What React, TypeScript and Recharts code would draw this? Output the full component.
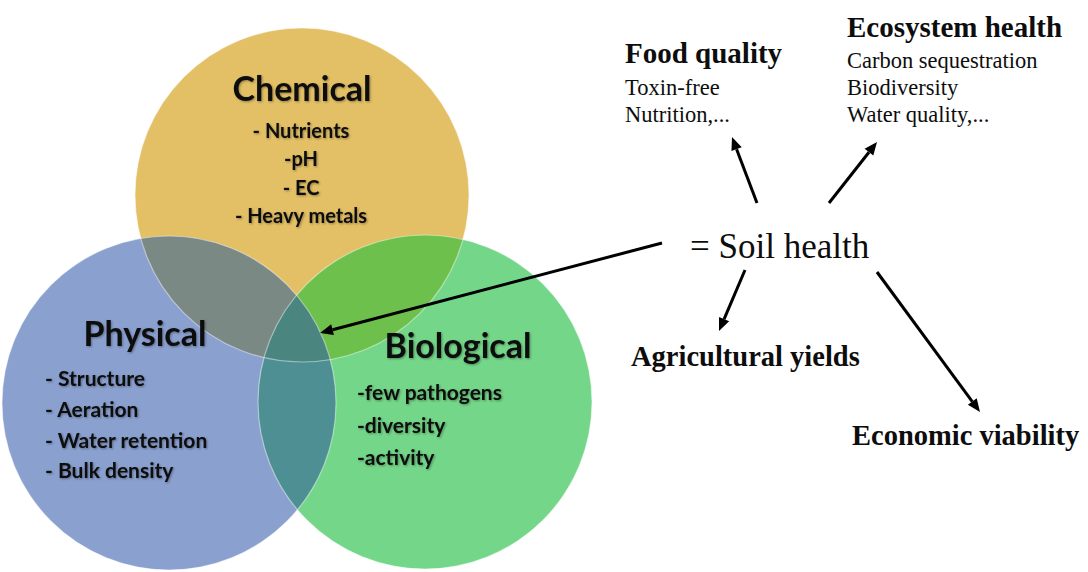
import React from "react";
import { ScatterChart, Scatter, XAxis, YAxis } from "recharts";

const W = 1088;
const H = 572;
const K = 1; // pixels per data unit (domain matches the chart size)

// three soil-property circles (center + radius, image units)
const circleKeys = ["chemical", "physical", "biological"];
const circleX = [302, 169, 425];
const circleY = [195, 403, 402];
const circleR = [167, 167, 167];

// overlapping regions, by circle index
const overlapKeys = ["chem-phys", "chem-bio", "phys-bio", "all"];
const overlapSets = [[0, 1], [0, 2], [1, 2], [0, 1, 2]];

// venn titles
const vennTitles = ["Chemical", "Physical", "Biological"];
const vennTitleX = [302, 145, 458];
const vennTitleY = [101, 346, 358];

const chemicalItems = ["- Nutrients", "-pH", "- EC", "- Heavy metals"];
const chemicalItemY = [138, 166, 195, 223];
const chemicalItemX = 301;

const physicalItems = ["- Structure", "- Aeration", "- Water retention", "- Bulk density"];
const physicalItemY = [386, 417, 448, 478];
const physicalItemX = 45;

const biologicalItems = ["-few pathogens", "-diversity", "-activity"];
const biologicalItemY = [400, 433, 465];
const biologicalItemX = 357;

// outcomes on the right
const foodTitle = "Food quality";
const foodItems = ["Toxin-free", "Nutrition,..."];
const ecoTitle = "Ecosystem health";
const ecoItems = ["Carbon sequestration", "Biodiversity", "Water quality,..."];
const centerLabel = "= Soil health";
const yieldLabel = "Agricultural yields";
const economicLabel = "Economic viability";

// arrows: start and tip
const arrowFromX = [662, 757, 829, 745, 877];
const arrowFromY = [243, 203, 203, 270, 272];
const arrowToX = [320, 732, 877, 719, 980];
const arrowToY = [333, 137, 142, 331, 412];

const circleFill: Record<string, string> = {
  chemical: "#E3C066",
  physical: "#8AA0CF",
  biological: "#74D689",
};
const overlapFill: Record<string, string> = {
  "chem-phys": "#7B8985",
  "chem-bio": "#6DC04B",
  "phys-bio": "#4E8F94",
  all: "#4A8580",
};

const SANS = "Lato, 'Open Sans', sans-serif";
const SERIF = "'Liberation Serif', 'Times New Roman', serif";
const SHADOW = "drop-shadow(1px 1.5px 1px rgba(0,0,0,0.35))";

const labelStyle: Record<string, any> = {
  vennTitle: { fontFamily: SANS, fontWeight: 700, fontSize: 34, anchor: "middle", shadow: true },
  vennItemMid: { fontFamily: SANS, fontWeight: 700, fontSize: 20, anchor: "middle", shadow: true },
  vennItem: { fontFamily: SANS, fontWeight: 700, fontSize: 21, anchor: "start", shadow: true },
  outTitle: { fontFamily: SERIF, fontWeight: 700, fontSize: 29, anchor: "start" },
  outItem: { fontFamily: SERIF, fontWeight: 400, fontSize: 22.5, anchor: "start" },
  center: { fontFamily: SERIF, fontWeight: 400, fontSize: 35, anchor: "start" },
  outBig: { fontFamily: SERIF, fontWeight: 700, fontSize: 28.5, anchor: "start" },
};

const circleData = circleKeys.map((key, i) => ({ key, idx: i, x: circleX[i], y: circleY[i] }));
const overlapData = overlapKeys.map((key, i) => {
  const a = overlapSets[i][0];
  return { key, ids: overlapSets[i], x: circleX[a], y: circleY[a] };
});
const arrowData = arrowFromX.map((x, i) => ({ idx: i, x, y: arrowFromY[i] }));

const labelData = [
  ...vennTitles.map((text, i) => ({ text, kind: "vennTitle", x: vennTitleX[i], y: vennTitleY[i] })),
  ...chemicalItems.map((text, i) => ({ text, kind: "vennItemMid", x: chemicalItemX, y: chemicalItemY[i] })),
  ...physicalItems.map((text, i) => ({ text, kind: "vennItem", x: physicalItemX, y: physicalItemY[i] })),
  ...biologicalItems.map((text, i) => ({ text, kind: "vennItem", x: biologicalItemX, y: biologicalItemY[i] })),
  { text: foodTitle, kind: "outTitle", x: 625, y: 63 },
  ...foodItems.map((text, i) => ({ text, kind: "outItem", x: 625, y: [95, 122][i] })),
  { text: ecoTitle, kind: "outTitle", x: 847, y: 37 },
  ...ecoItems.map((text, i) => ({ text, kind: "outItem", x: 847, y: [68, 95, 122][i] })),
  { text: centerLabel, kind: "center", x: 690, y: 258 },
  { text: yieldLabel, kind: "outBig", x: 631, y: 366 },
  { text: economicLabel, kind: "outBig", x: 852, y: 445 },
];

const renderCircle = (p: any) => {
  const { cx, cy, payload } = p;
  return <circle cx={cx} cy={cy} r={circleR[payload.idx] * K} fill={circleFill[payload.key]} />;
};

const renderOutline = (p: any) => {
  const { cx, cy, payload } = p;
  return (
    <circle
      cx={cx}
      cy={cy}
      r={circleR[payload.idx] * K}
      fill="none"
      stroke="rgba(255,255,255,0.45)"
      strokeWidth={1.2}
    />
  );
};

const renderOverlap = (p: any) => {
  const { cx, cy, payload } = p;
  const [a, ...rest] = payload.ids as number[];
  const clipId = (j: number) => `ov-${payload.key}-${j}`;
  let node: React.ReactNode = (
    <circle cx={cx} cy={cy} r={circleR[a] * K} fill={overlapFill[payload.key]} />
  );
  rest.forEach((j) => {
    node = <g clipPath={`url(#${clipId(j)})`}>{node}</g>;
  });
  return (
    <g>
      <defs>
        {rest.map((j) => (
          <clipPath id={clipId(j)} key={j}>
            <circle
              cx={cx + (circleX[j] - circleX[a]) * K}
              cy={cy + (circleY[j] - circleY[a]) * K}
              r={circleR[j] * K}
            />
          </clipPath>
        ))}
      </defs>
      {node}
    </g>
  );
};

const renderLabel = (p: any) => {
  const { cx, cy, payload } = p;
  const s = labelStyle[payload.kind];
  return (
    <text
      x={cx}
      y={cy}
      textAnchor={s.anchor}
      fontFamily={s.fontFamily}
      fontWeight={s.fontWeight}
      fontSize={s.fontSize}
      fill="#0d0d0d"
      style={s.shadow ? { filter: SHADOW } : undefined}
    >
      {payload.text}
    </text>
  );
};

const renderArrow = (p: any) => {
  const { cx: x1, cy: y1, payload } = p;
  const i = payload.idx;
  const x2 = x1 + (arrowToX[i] - arrowFromX[i]) * K;
  const y2 = y1 + (arrowToY[i] - arrowFromY[i]) * K;
  const ang = Math.atan2(y2 - y1, x2 - x1);
  const len = 13;
  const half = 5.5;
  const bx = x2 - len * Math.cos(ang);
  const by = y2 - len * Math.sin(ang);
  const nx = -Math.sin(ang);
  const ny = Math.cos(ang);
  return (
    <g>
      <line x1={x1} y1={y1} x2={bx} y2={by} stroke="#000" strokeWidth={3} />
      <polygon
        points={`${x2},${y2} ${bx + nx * half},${by + ny * half} ${bx - nx * half},${by - ny * half}`}
        fill="#000"
      />
    </g>
  );
};

export default function App() {
  return (
    <div style={{ width: W, height: H, background: "#fff" }}>
      <style>{"body{margin:0}"}</style>
      <ScatterChart width={W} height={H} margin={{ top: 0, right: 0, bottom: 0, left: 0 }}>
        <XAxis type="number" dataKey="x" domain={[0, W]} allowDataOverflow hide />
        <YAxis type="number" dataKey="y" domain={[0, H]} allowDataOverflow reversed hide />
        <Scatter data={circleData} shape={renderCircle} isAnimationActive={false} />
        <Scatter data={overlapData} shape={renderOverlap} isAnimationActive={false} />
        <Scatter data={circleData} shape={renderOutline} isAnimationActive={false} />
        <Scatter data={arrowData} shape={renderArrow} isAnimationActive={false} />
        <Scatter data={labelData} shape={renderLabel} isAnimationActive={false} />
      </ScatterChart>
    </div>
  );
}
